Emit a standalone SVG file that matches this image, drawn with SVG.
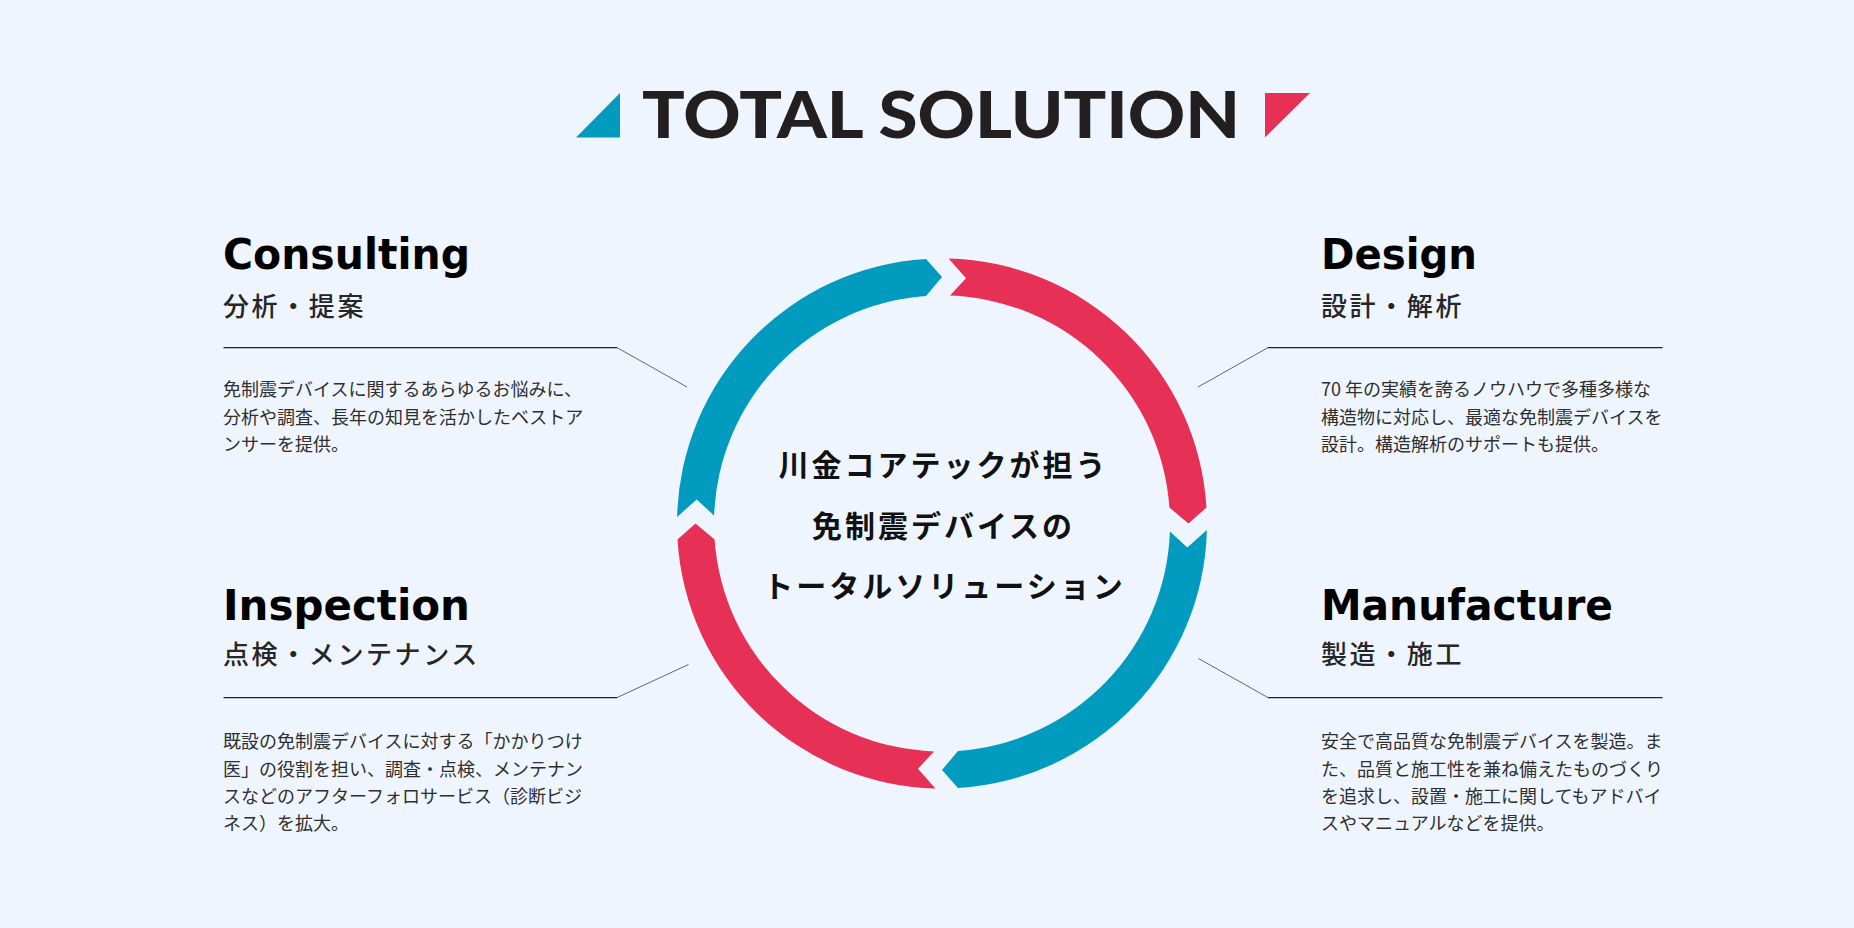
<svg xmlns="http://www.w3.org/2000/svg" width="1854" height="928" viewBox="0 0 1854 928">
<defs>
<style>
.bg{fill:#EEF5FE}
.blue{fill:#009BBE}
.red{fill:#E63056}
.title{font-family:Lato,"Liberation Sans",sans-serif;font-weight:900;font-size:64px;fill:#231F20}
.head{font-family:"DejaVu Sans","Liberation Sans",sans-serif;font-weight:700;font-size:43px;fill:#000}
.sub{font-family:"Noto Sans CJK JP",sans-serif;font-weight:500;font-size:26px;letter-spacing:2.6px;fill:#262626}
.body{font-family:"Noto Sans CJK JP",sans-serif;font-size:18px;fill:#2e2e2e}
.center{font-family:"Noto Sans CJK JP",sans-serif;font-weight:700;font-size:30px;letter-spacing:3px;fill:#111;text-anchor:middle}
.hl{stroke:#222;stroke-width:1.3;fill:none}
.dl{stroke:#666;stroke-width:1;fill:none}
</style>
<path id="seg" d="M 948.6 258.6 A 265 265 0 0 1 1206.5 507.5 L 1188.5 523.5 L 1169.4 507.5 A 228 228 0 0 0 950 295.6 L 966 278.2 Z"/>
</defs>
<rect class="bg" x="0" y="0" width="1854" height="928"/>

<g id="title">
<polygon class="blue" points="576,137.5 620,137.5 620,93"/>
<text class="title" x="642" y="137.5" textLength="598" lengthAdjust="spacingAndGlyphs">TOTAL SOLUTION</text>
<polygon class="red" points="1265,93 1310,93 1265,137.5"/>
</g>

<g id="cycle">
<use href="#seg" class="red"/>
<use href="#seg" class="blue" transform="rotate(90 942 523.5)"/>
<use href="#seg" class="red" transform="rotate(180 942 523.5)"/>
<use href="#seg" class="blue" transform="rotate(270 942 523.5)"/>
</g>

<g id="center-text">
<text class="center" x="943.5" y="476">川金コアテックが担う</text>
<text class="center" x="943.5" y="536.5">免制震デバイスの</text>
<text class="center" x="944.5" y="597">トータルソリューション</text>
</g>

<g id="connectors">
<polyline class="hl" points="223.5,347.6 617,347.6"/>
<line class="dl" x1="617" y1="347.6" x2="687" y2="387"/>
<polyline class="hl" points="1268,347.6 1662.5,347.6"/>
<line class="dl" x1="1268" y1="347.6" x2="1198" y2="387"/>
<polyline class="hl" points="223.5,697.6 617,697.6"/>
<line class="dl" x1="617" y1="697.6" x2="688.5" y2="664.5"/>
<polyline class="hl" points="1268,697.6 1662.5,697.6"/>
<line class="dl" x1="1268" y1="697.6" x2="1198.5" y2="658.5"/>
</g>

<g id="consulting">
<text class="head" x="223" y="268.5" textLength="247" lengthAdjust="spacingAndGlyphs">Consulting</text>
<text class="sub" x="223" y="316">分析・提案</text>
<text class="body" x="223" y="396.3">免制震デバイスに関するあらゆるお悩みに、</text>
<text class="body" x="223" y="423.5">分析や調査、長年の知見を活かしたベストア</text>
<text class="body" x="223" y="450.7">ンサーを提供。</text>
</g>

<g id="design">
<text class="head" x="1321" y="268.5" textLength="156" lengthAdjust="spacingAndGlyphs">Design</text>
<text class="sub" x="1321" y="316">設計・解析</text>
<text class="body" x="1321" y="396.3">70 年の実績を誇るノウハウで多種多様な</text>
<text class="body" x="1321" y="423.5">構造物に対応し、最適な免制震デバイスを</text>
<text class="body" x="1321" y="450.7">設計。構造解析のサポートも提供。</text>
</g>

<g id="inspection">
<text class="head" x="223" y="619.5" textLength="247" lengthAdjust="spacingAndGlyphs">Inspection</text>
<text class="sub" x="223" y="664">点検・メンテナンス</text>
<text class="body" x="223" y="748.3">既設の免制震デバイスに対する「かかりつけ</text>
<text class="body" x="223" y="775.5">医」の役割を担い、調査・点検、メンテナン</text>
<text class="body" x="223" y="802.7">スなどのアフターフォロサービス（診断ビジ</text>
<text class="body" x="223" y="829.9">ネス）を拡大。</text>
</g>

<g id="manufacture">
<text class="head" x="1321" y="619.5" textLength="292" lengthAdjust="spacingAndGlyphs">Manufacture</text>
<text class="sub" x="1321" y="664">製造・施工</text>
<text class="body" x="1321" y="748.3">安全で高品質な免制震デバイスを製造。ま</text>
<text class="body" x="1321" y="775.5">た、品質と施工性を兼ね備えたものづくり</text>
<text class="body" x="1321" y="802.7">を追求し、設置・施工に関してもアドバイ</text>
<text class="body" x="1321" y="829.9">スやマニュアルなどを提供。</text>
</g>
</svg>
